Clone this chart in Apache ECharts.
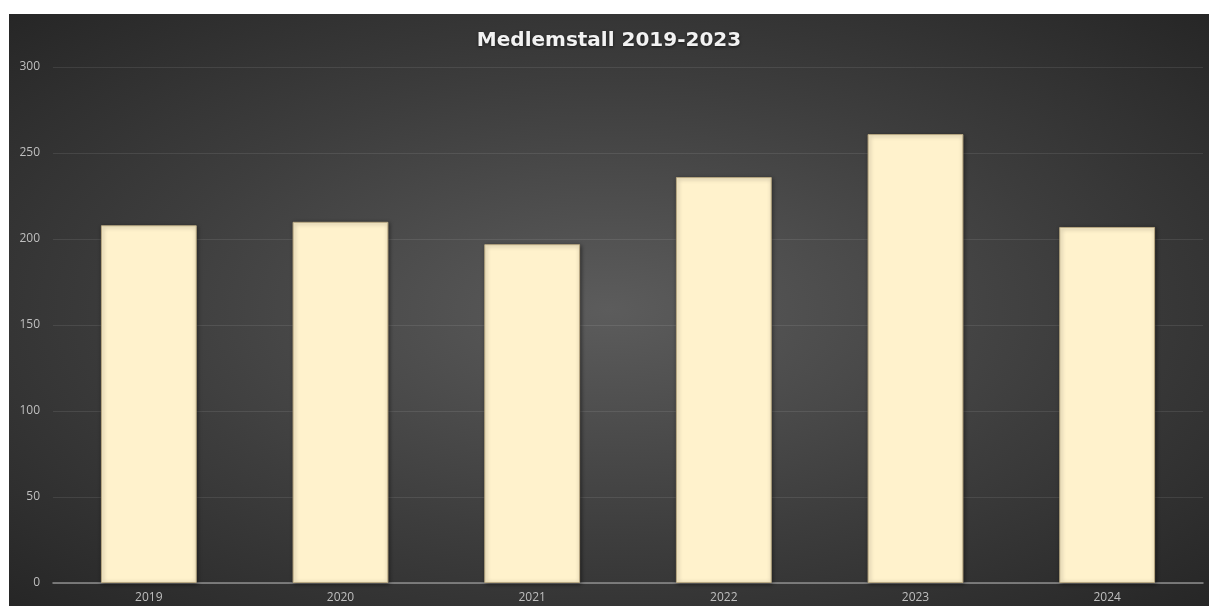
<!DOCTYPE html>
<html>
<head>
<meta charset="utf-8">
<script src="https://cdn.jsdelivr.net/npm/echarts@6/dist/echarts.min.js"></script>
<style>
html,body{margin:0;padding:0;background:#fff;width:1209px;height:606px;overflow:hidden;}
#chart{position:absolute;left:9px;top:14px;width:1200px;height:592px;
background:radial-gradient(ellipse at 50% 50%, #5c5c5c 0%, #3d3d3d 55%, #262626 100%);}
</style>
</head>
<body>
<div id="chart"></div>
<script>
const categories = ['2019','2020','2021','2022','2023','2024'];
const members = [208, 210, 197, 236, 261, 207];
const yTicks = [0, 50, 100, 150, 200, 250, 300];
const titleText = 'Medlemstall 2019-2023';

const chart = echarts.init(document.getElementById('chart'));
chart.setOption({
  backgroundColor: 'transparent',
  animation: false,
  title: {
    text: titleText,
    left: 'center',
    top: 12,
    textStyle: {
      color: '#f2f2f2', fontSize: 20, fontWeight: 'bold',
      fontFamily: 'DejaVu Sans',
      textShadowColor: 'rgba(0,0,0,0.6)', textShadowBlur: 3, textShadowOffsetY: 1
    }
  },
  grid: { left: 44, right: 6, top: 53, bottom: 23, containLabel: false },
  xAxis: {
    type: 'category',
    data: categories,
    axisTick: { show: false },
    axisLine: { lineStyle: { color: '#8e8e8e', width: 1.5 } },
    axisLabel: { color: '#bfbfbf', fontSize: 12, margin: 9, fontFamily: 'Open Sans' }
  },
  yAxis: {
    type: 'value',
    min: yTicks[0], max: yTicks[yTicks.length - 1], interval: 50,
    axisLine: { show: false },
    axisTick: { show: false },
    axisLabel: { color: '#bfbfbf', fontSize: 12, margin: 13, fontFamily: 'Open Sans' },
    splitLine: { lineStyle: { color: 'rgba(255,255,255,0.09)', width: 1 } }
  },
  series: [{
    type: 'bar',
    data: members,
    barWidth: '50%',
    itemStyle: {
      color: '#fff2cc',
      borderColor: '#b8a882', borderWidth: 1,
      shadowColor: 'rgba(0,0,0,0.45)', shadowBlur: 4, shadowOffsetX: 1, shadowOffsetY: 1
    }
  }]
});
</script>
</body>
</html>
